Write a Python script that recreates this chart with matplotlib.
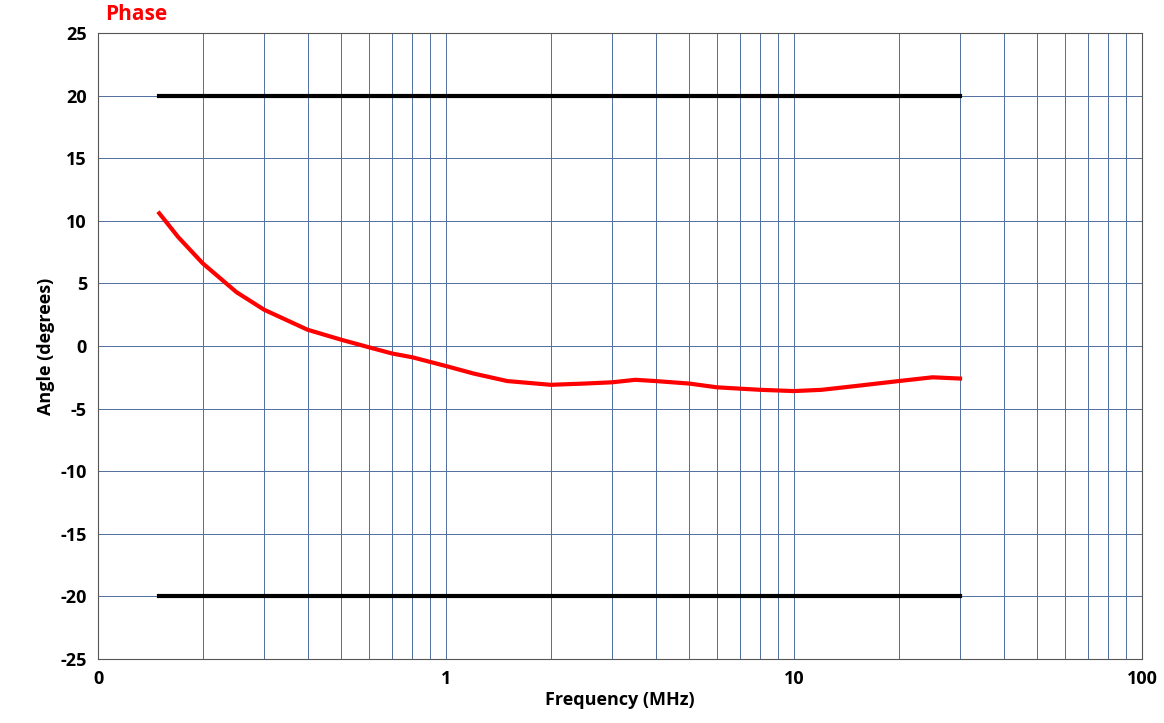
import matplotlib.pyplot as plt
import numpy as np
from matplotlib.ticker import FixedLocator, NullFormatter

plt.rcParams["font.family"] = ["Open Sans", "DejaVu Sans"]
plt.rcParams["axes.unicode_minus"] = False

freq_mhz = [0.15, 0.17, 0.2, 0.25, 0.3, 0.4, 0.5, 0.6, 0.7, 0.8, 1.0, 1.2, 1.5,
            2.0, 2.5, 3.0, 3.5, 4.0, 5.0, 6.0, 8.0, 10, 12, 15, 20, 25, 30]
phase_deg = [10.6, 8.7, 6.6, 4.3, 2.9, 1.3, 0.5, -0.1, -0.6, -0.9, -1.6, -2.2, -2.8,
             -3.1, -3.0, -2.9, -2.7, -2.8, -3.0, -3.3, -3.5, -3.6, -3.5, -3.2, -2.8, -2.5, -2.6]
limit_freq = [0.15, 30]
upper_limit = [20, 20]
lower_limit = [-20, -20]

fig = plt.figure(figsize=(11.64, 7.23), dpi=100)
ax = fig.add_axes([98 / 1164, 1 - 659 / 723, (1142 - 98) / 1164, (659 - 33) / 723])

ax.plot(limit_freq, upper_limit, color="black", linewidth=3)
ax.plot(limit_freq, lower_limit, color="black", linewidth=3)
ax.plot(freq_mhz, phase_deg, color="#ff0000", linewidth=3, solid_joinstyle="round")

ax.set_xscale("log")
ax.set_xlim(0.1, 100)
ax.set_ylim(-25, 25)
ax.set_xticks([0.1, 1, 10, 100])
ax.set_xticklabels(["0", "1", "10", "100"])
minors = [m * 10.0 ** e for e in (-1, 0, 1) for m in range(2, 10)]
ax.xaxis.set_minor_locator(FixedLocator(minors))
ax.xaxis.set_minor_formatter(NullFormatter())
ax.set_yticks(range(-25, 30, 5))
ax.grid(True, which="both", color="#4f6f9f", linewidth=0.7)
ax.set_axisbelow(True)
ax.tick_params(axis="both", which="both", length=0, labelsize=13, pad=8)
for lbl in ax.get_xticklabels() + ax.get_yticklabels():
    lbl.set_fontweight("bold")
for s in ax.spines.values():
    s.set_color("#555555")

ax.set_xlabel("Frequency (MHz)", fontsize=13, fontweight="bold", labelpad=2)
ax.set_ylabel("Angle (degrees)", fontsize=13, fontweight="bold")
fig.text(105 / 1164, 1 - 15 / 723, "Phase", color="#ff0000", fontsize=15,
         fontweight="bold", va="center")

fig.savefig("out.png", dpi=100)
